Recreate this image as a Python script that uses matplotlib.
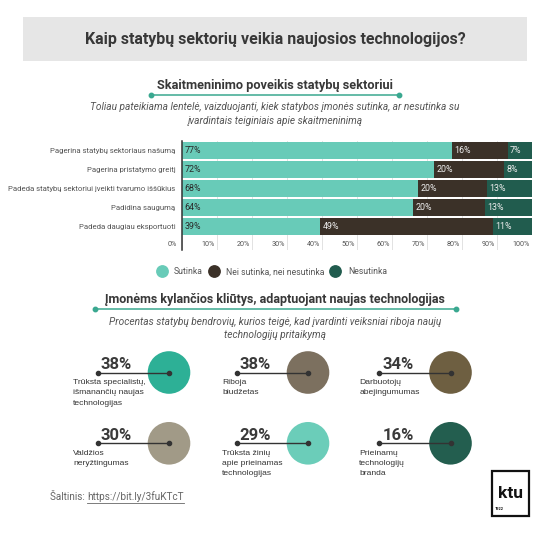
import numpy as np
import matplotlib.pyplot as plt
from matplotlib.patches import Rectangle, Circle
from matplotlib.lines import Line2D

plt.rcParams['font.family'] = ['Roboto', 'DejaVu Sans']

# ---- data ----
title = "Kaip statybų sektorių veikia naujosios technologijos?"
bar_title = "Skaitmeninimo poveikis statybų sektoriui"
bar_subtitle = ["Toliau pateikiama lentelė, vaizduojanti, kiek statybos įmonės sutinka, ar nesutinka su",
                "įvardintais teiginiais apie skaitmeninimą"]
statements = ["Pagerina statybų sektoriaus našumą",
              "Pagerina pristatymo greitį",
              "Padeda statybų sektoriui įveikti tvarumo iššūkius",
              "Padidina saugumą",
              "Padeda daugiau eksportuoti"]
series_names = ["Sutinka", "Nei sutinka, nei nesutinka", "Nesutinka"]
agree = [77, 72, 68, 64, 39]
neutral = [16, 20, 20, 20, 49]
disagree = [7, 8, 13, 13, 11]
x_ticks = [0, 10, 20, 30, 40, 50, 60, 70, 80, 90, 100]

barrier_title = "Įmonėms kylančios kliūtys, adaptuojant naujas technologijas"
barrier_subtitle = ["Procentas statybų bendrovių, kurios teigė, kad įvardinti veiksniai riboja naujų",
                    "technologijų pritaikymą"]
barriers = ["Trūksta specialistų,\nišmanančių naujas\ntechnologijas",
            "Riboja\nbiudžetas",
            "Darbuotojų\nabejingumumas",
            "Valdžios\nneryžtingumas",
            "Trūksta žinių\napie prieinamas\ntechnologijas",
            "Prieinamų\ntechnologijų\nbranda"]
barrier_pct = [38, 38, 34, 30, 29, 16]
source_label = "Šaltinis: "
source_link = "https://bit.ly/3fuKTcT"

# ---- styles ----
series_colors = ["#68cbb8", "#3b3128", "#215c4e"]
circle_colors = ["#2db096", "#7c705f", "#6e5f41", "#a19a87", "#6bcdb9", "#235e4f"]
teal = "#3aa890"
dark = "#383838"
grey = "#555555"

fig = plt.figure(figsize=(5.5, 5.36), dpi=100)
bg = fig.add_axes([0, 0, 1, 1])
bg.set_xlim(0, 550)
bg.set_ylim(536, 0)
bg.axis("off")


def text_lines(x, y0, lines, dy, **kw):
    for i, s in enumerate(lines):
        bg.text(x, y0 + i * dy, s, **kw)


def heading(y, text, x0, x1, size):
    bg.text(275, y, text, ha="center", va="center", fontsize=size,
            fontweight="bold", color=dark)
    bg.plot([x0, x1], [y + 9.5, y + 9.5], color=teal, lw=1.1)
    bg.plot([x0, x1], [y + 9.5, y + 9.5], "o", color=teal, ms=3.2)


# title box
bg.add_patch(Rectangle((23, 17), 504, 44, color="#e6e6e6", lw=0))
bg.text(275, 39.5, title, ha="center", va="center", fontsize=11.5,
        fontweight="bold", color=dark)

# section 1 heading
heading(85, bar_title, 151, 399, 9.2)
text_lines(275, 107.5, bar_subtitle, 14, ha="center", va="center",
           fontsize=7.3, style="italic", color=grey)

# ---- stacked 100% bar chart ----
ax = fig.add_axes([182.3 / 550, 1 - 250 / 536, (532 - 182.3) / 550, (250 - 141) / 536])
data = np.array([agree, neutral, disagree], dtype=float)
shares = data / data.sum(axis=0) * 100
y = np.arange(len(statements))
left = np.zeros(len(statements))
for k, name in enumerate(series_names):
    ax.barh(y, shares[k], left=left, height=0.88, color=series_colors[k],
            label=name, zorder=2)
    txt_col = "#2a2a2a" if k == 0 else "#eeeeee"
    for i in range(len(statements)):
        ax.annotate(f"{int(data[k, i])}%", (left[i], y[i]), xytext=(1.8, 0),
                    textcoords="offset points", va="center", ha="left",
                    fontsize=6.4, color=txt_col, zorder=3)
    left += shares[k]

ax.set_xlim(0, 100)
ax.set_ylim(5.254, -0.513)
ax.set_yticks(y)
ax.set_yticklabels(statements, fontsize=5.6, color=grey)
ax.tick_params(axis="y", length=0, pad=5)
ax.set_xticks(x_ticks)
ax.set_xticklabels([])
ax.tick_params(axis="x", length=0)
ax.grid(axis="x", color="#e2e2e2", lw=0.7, zorder=0)
for t in x_ticks:
    ax.annotate(f"{t}%", (t, 4.94), xytext=(-1.5 if t else -3.5, 0),
                textcoords="offset points", ha="right", va="center",
                fontsize=5.2, color=grey)
for s in ["top", "right", "bottom"]:
    ax.spines[s].set_visible(False)
ax.spines["left"].set_color("#333333")
ax.spines["left"].set_linewidth(1.1)
ax.spines["left"].set_zorder(4)
ax.set_facecolor("none")

handles = [Line2D([], [], ls="none", marker="o", ms=8.2, color=c) for c in series_colors]
fig.legend(handles, series_names, loc="center", bbox_to_anchor=(272 / 550, 1 - 272 / 536),
           ncol=3, frameon=False, fontsize=6.2, handlelength=1.0, handletextpad=0.95,
           columnspacing=0.75, labelcolor=grey)

# section 2 heading
heading(299, barrier_title, 95, 456, 9.0)
text_lines(275, 322, barrier_subtitle, 13.5, ha="center", va="center",
           fontsize=7.3, style="italic", color=grey)

# ---- barrier circles ----
col_cx = [169, 308, 450.5]
col_label_x = [73, 222.3, 359.3]
row_cy = [372.5, 443.3]
for i, (lab, pct) in enumerate(zip(barriers, barrier_pct)):
    r, c = divmod(i, 3)
    cx, cy = col_cx[c], row_cy[r]
    bg.add_patch(Circle((cx, cy), 21.3, color=circle_colors[i], lw=0, zorder=2))
    x0 = cx - 71.5
    bg.plot([x0, cx], [cy, cy], color="#333333", lw=1.0, zorder=3)
    bg.plot([x0, cx], [cy, cy], "o", color="#333333", ms=3.0, zorder=3)
    bg.text(x0 + 3.3, cy - 3.2, f"{pct}%", ha="left", va="baseline",
            fontsize=12, fontweight="bold", color="#3a3a3a", zorder=3)
    text_lines(col_label_x[c], cy + 10, lab.split("\n"), 10.3, ha="left",
               va="center", fontsize=6.1, color="#333333",
               family=["Liberation Sans", "DejaVu Sans"])

# ---- source ----
t1 = bg.text(50, 497, source_label, ha="left", va="center", fontsize=7.2, color="#666666")
fig.canvas.draw()
bb = t1.get_window_extent().transformed(bg.transData.inverted())
t2 = bg.text(bb.x1, 497, source_link, ha="left", va="center", fontsize=7.2, color="#666666")
fig.canvas.draw()
bb2 = t2.get_window_extent().transformed(bg.transData.inverted())
bg.plot([bb2.x0, bb2.x1], [502.5, 502.5], color="#666666", lw=0.6)

# ---- ktu logo ----
bg.add_patch(Rectangle((491.7, 471), 37.6, 44.7, facecolor="white",
                       edgecolor="#111111", lw=1.6))
bg.text(510.5, 494, "ktu", ha="center", va="center", fontsize=12.5,
        fontweight="bold", color="#111111")
bg.text(494.5, 509.5, "1922", ha="left", va="center", fontsize=2.8,
        fontweight="bold", color="#111111")

fig.savefig("out.png", dpi=100, facecolor="white")
